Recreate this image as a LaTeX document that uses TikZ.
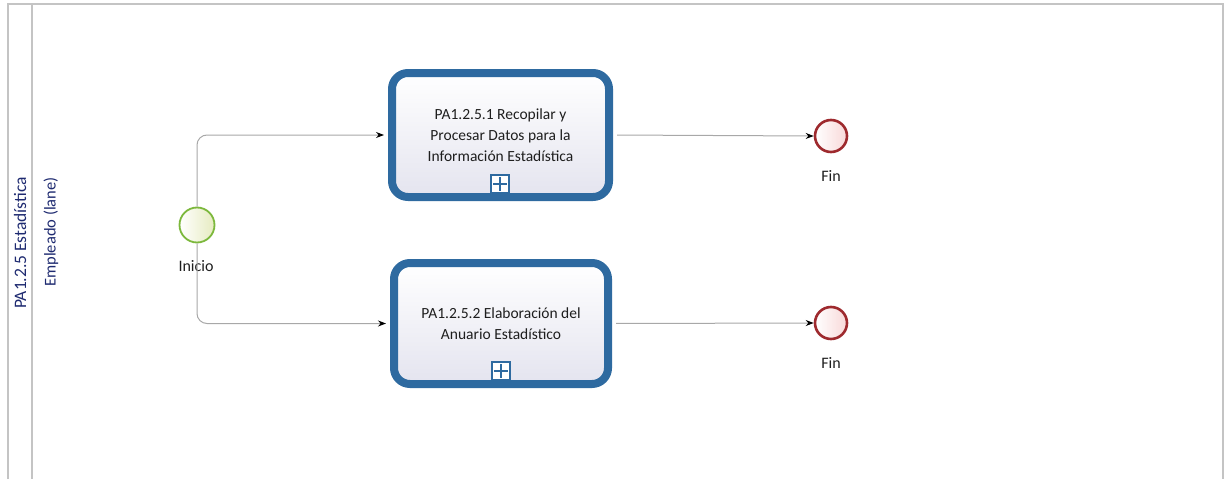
\documentclass[tikz,border=0pt]{standalone}
\usepackage{fontspec}
\setmainfont{Carlito}
\usetikzlibrary{arrows.meta}
\definecolor{poolgray}{HTML}{C4C4C4}
\definecolor{taskblue}{HTML}{2E6AA0}
\definecolor{taskfill}{HTML}{E4E4EF}
\definecolor{startgreen}{HTML}{7CB83C}
\definecolor{startfill}{HTML}{E6EBC0}
\definecolor{endred}{HTML}{9E2A2E}
\definecolor{endfill}{HTML}{F8D8D8}
\definecolor{flowgray}{HTML}{A8A8A8}
\definecolor{labelblue}{HTML}{1E2A70}
\definecolor{txt}{HTML}{1E1E1E}
\tikzset{
  x=1pt, y=-1pt,
  every node/.style={font=\fontsize{15.5}{21}\selectfont, text=txt},
  taskbox/.style={draw=taskblue, line width=8pt, rounded corners=16pt,
    top color=white, bottom color=taskfill, align=center, inner sep=0pt},
  startev/.style={circle, draw=startgreen, line width=1.8pt, minimum size=35pt,
    inner sep=0pt, left color=white, right color=startfill},
  endev/.style={circle, draw=endred, line width=2.6pt, minimum size=32pt,
    inner sep=0pt, left color=white, right color=endfill},
  flow/.style={draw=flowgray, line width=1pt, rounded corners=10pt,
    -{Stealth[length=8pt,width=6pt,fill=black,color=black]}},
  marker/.style={draw=taskblue, line width=1.8pt, fill=white, minimum size=18pt, inner sep=0pt},
  plusbar/.style={draw=taskblue, line width=2.4pt},
  evlabel/.style={font=\fontsize{16}{18}\selectfont},
  poollabel/.style={rotate=90, text=labelblue, font=\fontsize{17.5}{20}\selectfont},
  lanelabel/.style={rotate=90, text=labelblue, font=\fontsize{16.5}{20}\selectfont}
}
\begin{document}
\begin{tikzpicture}
\useasboundingbox (0,0) rectangle (1228,479);
% pool
\draw[poolgray, line width=1.6pt] (8,479) -- (8,4) -- (1223,4) -- (1223,479);
\draw[poolgray, line width=1.2pt] (32,4) -- (32,479);
\node[poollabel] (pool) at (20,243) {PA1.2.5 Estadística};
\node[lanelabel] (lane) at (51,232) {Empleado (lane)};
% events
\node[startev] (start) at (197,225) {};
\node[evlabel, anchor=north] (startlbl) at (196,257) {Inicio};
\node[taskbox, minimum width=217pt, minimum height=124pt] (t1) at (500.5,135)
  {PA1.2.5.1 Recopilar y\\Procesar Datos para la\\Información Estadística};
\node[taskbox, minimum width=214pt, minimum height=121pt] (t2) at (501,323.5)
  {PA1.2.5.2 Elaboración del\\Anuario Estadístico};
\node[endev] (e1) at (831,136) {};
\node[evlabel, anchor=north] (e1lbl) at (831,167) {Fin};
\node[endev] (e2) at (831,323) {};
\node[evlabel, anchor=north] (e2lbl) at (831,354) {Fin};
% markers
\node[marker] (m1) at (500,184) {};
\draw[plusbar] ([yshift=-3pt]m1.north) -- ([yshift=3pt]m1.south)
  ([xshift=3pt]m1.west) -- ([xshift=-3pt]m1.east);
\node[marker] (m2) at (501,371) {};
\draw[plusbar] ([yshift=-3pt]m2.north) -- ([yshift=3pt]m2.south)
  ([xshift=3pt]m2.west) -- ([xshift=-3pt]m2.east);
% flows
\draw[flow, shorten >=4pt] (start.north) |- (t1.west);
\draw[flow, shorten >=4pt] (start.south) |- (t2.west);
\draw[flow, shorten <=4pt] (t1.east) -- (e1.west);
\draw[flow, shorten <=4pt] (t2.east) -- (e2.west);
\end{tikzpicture}
\end{document}
